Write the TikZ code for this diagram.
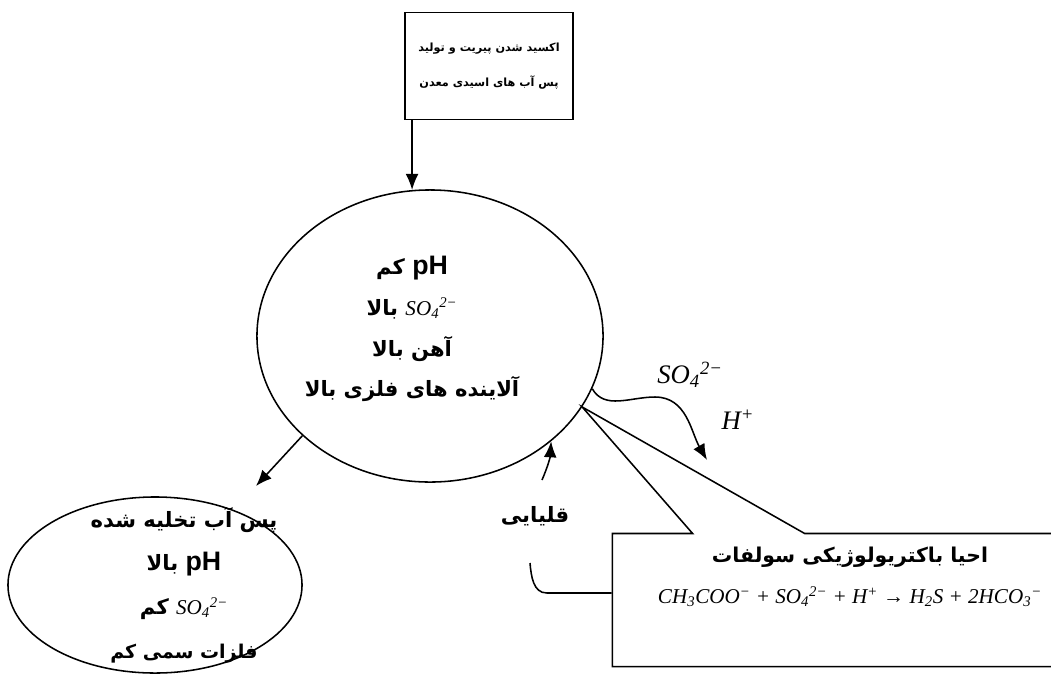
\documentclass[tikz,border=0pt]{standalone}
\usepackage{fontspec}
\usepackage{tikz}
\usetikzlibrary{arrows.meta, shapes.geometric, shapes.callouts}
\TeXXeTstate=1
\newfontfamily\arabicfont[Script=Arabic]{DejaVu Sans}
\newfontfamily\eqfont{Liberation Serif}
\newfontfamily\phfont{Liberation Sans}
\newcommand{\sulfate}{{\eqfont\mdseries\itshape SO\textsubscript{4}\textsuperscript{2−}}}
\newcommand{\phval}{{\phfont\bfseries\fontsize{19}{20}\selectfont pH}}
\tikzset{pyritebox/.style={rectangle, draw, minimum width=4.2cm, minimum height=2.675cm}}
\tikzset{wateroval/.style={ellipse, draw, inner sep=0pt}}
\tikzset{persian/.style={font=\arabicfont\bfseries\fontsize{15}{29}\selectfont, align=center, inner sep=0pt}}
\tikzset{formula/.style={font=\eqfont\itshape\fontsize{19}{21}\selectfont, inner sep=0pt}}
\tikzset{bigtip/.style={-{Latex[length=4mm, width=3.2mm]}}}

\begin{document}
\begin{tikzpicture}[x=0.025cm, y=-0.025cm, line width=1.1pt]
\useasboundingbox (0,0) rectangle (1051,679);

\node [pyritebox, persian, font=\arabicfont\bfseries\fontsize{8}{25}\selectfont] (pyrite) at (489,66)
  {\beginR اکسید شدن پیریت و تولید\endR\\ \beginR پس آب های اسیدی معدن\endR};

\node [wateroval, minimum width=8.65cm, minimum height=7.3cm] (acid) at (430,336) {};
\node [persian] (acidtxt) at (412,329)
  {\beginR\beginL\phval\endL{} کم\endR\\
   \beginR\beginL\sulfate\endL{} بالا\endR\\
   \beginR آهن بالا\endR\\
   \beginR آلاینده های فلزی بالا\endR};

\node [wateroval, minimum width=7.35cm, minimum height=4.4cm] (drained) at (155,585) {};
\node [persian, font=\arabicfont\bfseries\fontsize{15}{31}\selectfont] (drainedtxt) at (184,585)
  {\beginR پس آب تخلیه شده\endR\\
   \beginR\beginL\phval\endL{} بالا\endR\\
   \beginR\beginL\sulfate\endL{} کم\endR\\
   {\fontsize{13.5}{15}\selectfont\beginR فلزات سمی کم\endR}};

\node [rectangle callout, draw, minimum width=11.175cm, minimum height=3.325cm,
  callout absolute pointer={(acid.-25)}, callout pointer width=2.8cm] (bact) at (836,600) {};
\node [persian, font=\arabicfont\bfseries\fontsize{14.5}{29}\selectfont] (bacttxt) at (850,577)
  {\beginR احیا باکتریولوژیکی سولفات\endR\\
   {\eqfont\mdseries\itshape\fontsize{15}{17}\selectfont CH\textsubscript{3}COO\textsuperscript{−} + \sulfate{} + H\textsuperscript{+} → H\textsubscript{2}S + 2HCO\textsubscript{3}\textsuperscript{−}}};

\draw [bigtip] (pyrite.south -| acid.97) -- (acid.97);

\coordinate (drainin) at (256,486);
\draw [bigtip] (acid.218) -- (drainin);

\coordinate (alkin) at (542,480);
\draw [bigtip] (alkin) to[bend right=10] (acid.-41);
\node [persian] (alk) at (535,516) {\beginR قلیایی\endR};
\coordinate (alkfoot) at (530,563);
\draw ([yshift=5pt]bact.west) -- ++(-65,0) to[out=180, in=-85] (alkfoot);

\coordinate (sulfout) at (707,460);
\draw [bigtip] (acid.-18) to[out=-60, in=180] (655,397) to[out=0, in=120] (sulfout);
\node [formula] (sulflab) at (690,375) {\sulfate};
\node [formula] (hlab) at (738,420) {H\textsuperscript{+}};

\end{tikzpicture}
\end{document}
